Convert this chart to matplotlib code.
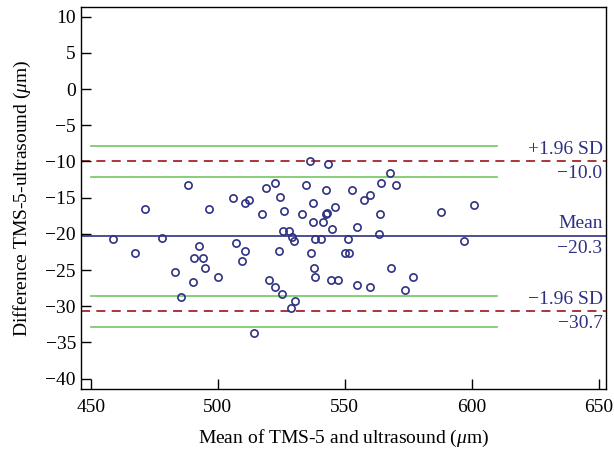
import numpy as np
import matplotlib
matplotlib.use('Agg')
import matplotlib.pyplot as plt

# mean of the two methods (um)
mean_vals = [488.4, 471.3, 496.4, 506.1, 510.7, 512.3, 518.9, 522.5, 524.6, 526.0,
             517.3, 525.5, 528.2, 529.2, 458.6, 478.0, 492.6, 507.3,
             536.4, 543.4, 567.8, 534.7, 542.7, 552.7, 564.1, 570.2, 537.3, 557.4,
             560.1, 546.3, 533.1, 542.7, 543.1, 537.3, 541.5, 564.0, 545.1, 554.9,
             563.5, 587.9, 601.0, 530.1, 538.4, 540.7, 551.4, 596.9,
             467.4, 490.6, 494.0, 495.0, 510.6, 509.7, 524.2, 483.0, 490.1, 500.1,
             485.6, 520.1, 522.5, 525.2, 530.5, 528.8, 514.2,
             536.7, 550.2, 551.8, 537.7, 538.1, 544.5, 547.3, 554.9, 560.1, 568.3,
             577.0, 573.6]
# difference TMS-5 - ultrasound (um)
diff_vals = [-13.3, -16.6, -16.6, -15.0, -15.7, -15.3, -13.6, -13.0, -14.9, -16.9,
             -17.3, -19.6, -19.6, -20.4, -20.7, -20.6, -21.7, -21.3,
             -10.0, -10.3, -11.6, -13.3, -14.0, -14.0, -13.0, -13.3, -15.7, -15.3,
             -14.6, -16.3, -17.3, -17.3, -17.1, -18.3, -18.3, -17.3, -19.3, -19.0,
             -20.0, -17.0, -16.0, -21.0, -20.7, -20.7, -20.7, -21.0,
             -22.6, -23.3, -23.3, -24.7, -22.4, -23.7, -22.4, -25.3, -26.6, -26.0,
             -28.7, -26.4, -27.3, -28.3, -29.3, -30.3, -33.7,
             -22.6, -22.6, -22.6, -24.7, -26.0, -26.4, -26.4, -27.0, -27.3, -24.7,
             -26.0, -27.7]

mean_diff = -20.3
upper_loa = -10.0
lower_loa = -30.7
upper_ci = [-7.9, -12.1]
lower_ci = [-28.6, -32.8]

navy = '#2e3182'
red = '#a3262a'
green = '#7ccb6c'

plt.rcParams['font.family'] = ['Liberation Serif', 'DejaVu Serif']
plt.rcParams['mathtext.fontset'] = 'custom'
plt.rcParams['mathtext.it'] = 'Liberation Serif:italic'
plt.rcParams['mathtext.rm'] = 'Liberation Serif'

fig = plt.figure(figsize=(6.14, 4.5), dpi=100)
ax = fig.add_axes([0.1315, 0.136, 0.856, 0.848])

for yv in upper_ci + lower_ci:
    ax.plot([450, 610], [yv, yv], color=green, lw=1.3, zorder=1)
ax.axhline(upper_loa, color=red, lw=1.3, ls=(0, (5, 3.5)), zorder=1)
ax.axhline(lower_loa, color=red, lw=1.3, ls=(0, (5, 3.5)), zorder=1)
ax.axhline(mean_diff, color=navy, lw=1.2, zorder=1)

ax.plot(mean_vals, diff_vals, 'o', ms=5.2, mfc='none', mec=navy, mew=1.2, zorder=3)

tx = 651.5
fs = 14
ax.text(tx, upper_loa + 0.5, '+1.96 SD', ha='right', va='bottom', color=navy, fontsize=fs)
ax.text(tx, upper_loa - 0.5, '\u221210.0', ha='right', va='top', color=navy, fontsize=fs)
ax.text(tx, mean_diff + 0.5, 'Mean', ha='right', va='bottom', color=navy, fontsize=fs)
ax.text(tx, mean_diff - 0.5, '\u221220.3', ha='right', va='top', color=navy, fontsize=fs)
ax.text(tx, lower_loa + 0.5, '\u22121.96 SD', ha='right', va='bottom', color=navy, fontsize=fs)
ax.text(tx, lower_loa - 0.5, '\u221230.7', ha='right', va='top', color=navy, fontsize=fs)

ax.set_xlim(446, 653)
ax.set_ylim(-41.4, 11.3)
ax.set_xticks(range(450, 651, 50))
ax.set_yticks(range(-40, 11, 5))
ax.tick_params(direction='in', length=7, width=1, labelsize=14, top=False, right=False)
ax.tick_params(axis='x', pad=7)
for s in ax.spines.values():
    s.set_linewidth(1)
ax.set_xlabel('Mean of TMS-5 and ultrasound ($\\mu$m)', fontsize=14, labelpad=9)
ax.set_ylabel('Difference TMS-5-ultrasound ($\\mu$m)', fontsize=14, labelpad=9)

fig.savefig('out.png', dpi=100)
